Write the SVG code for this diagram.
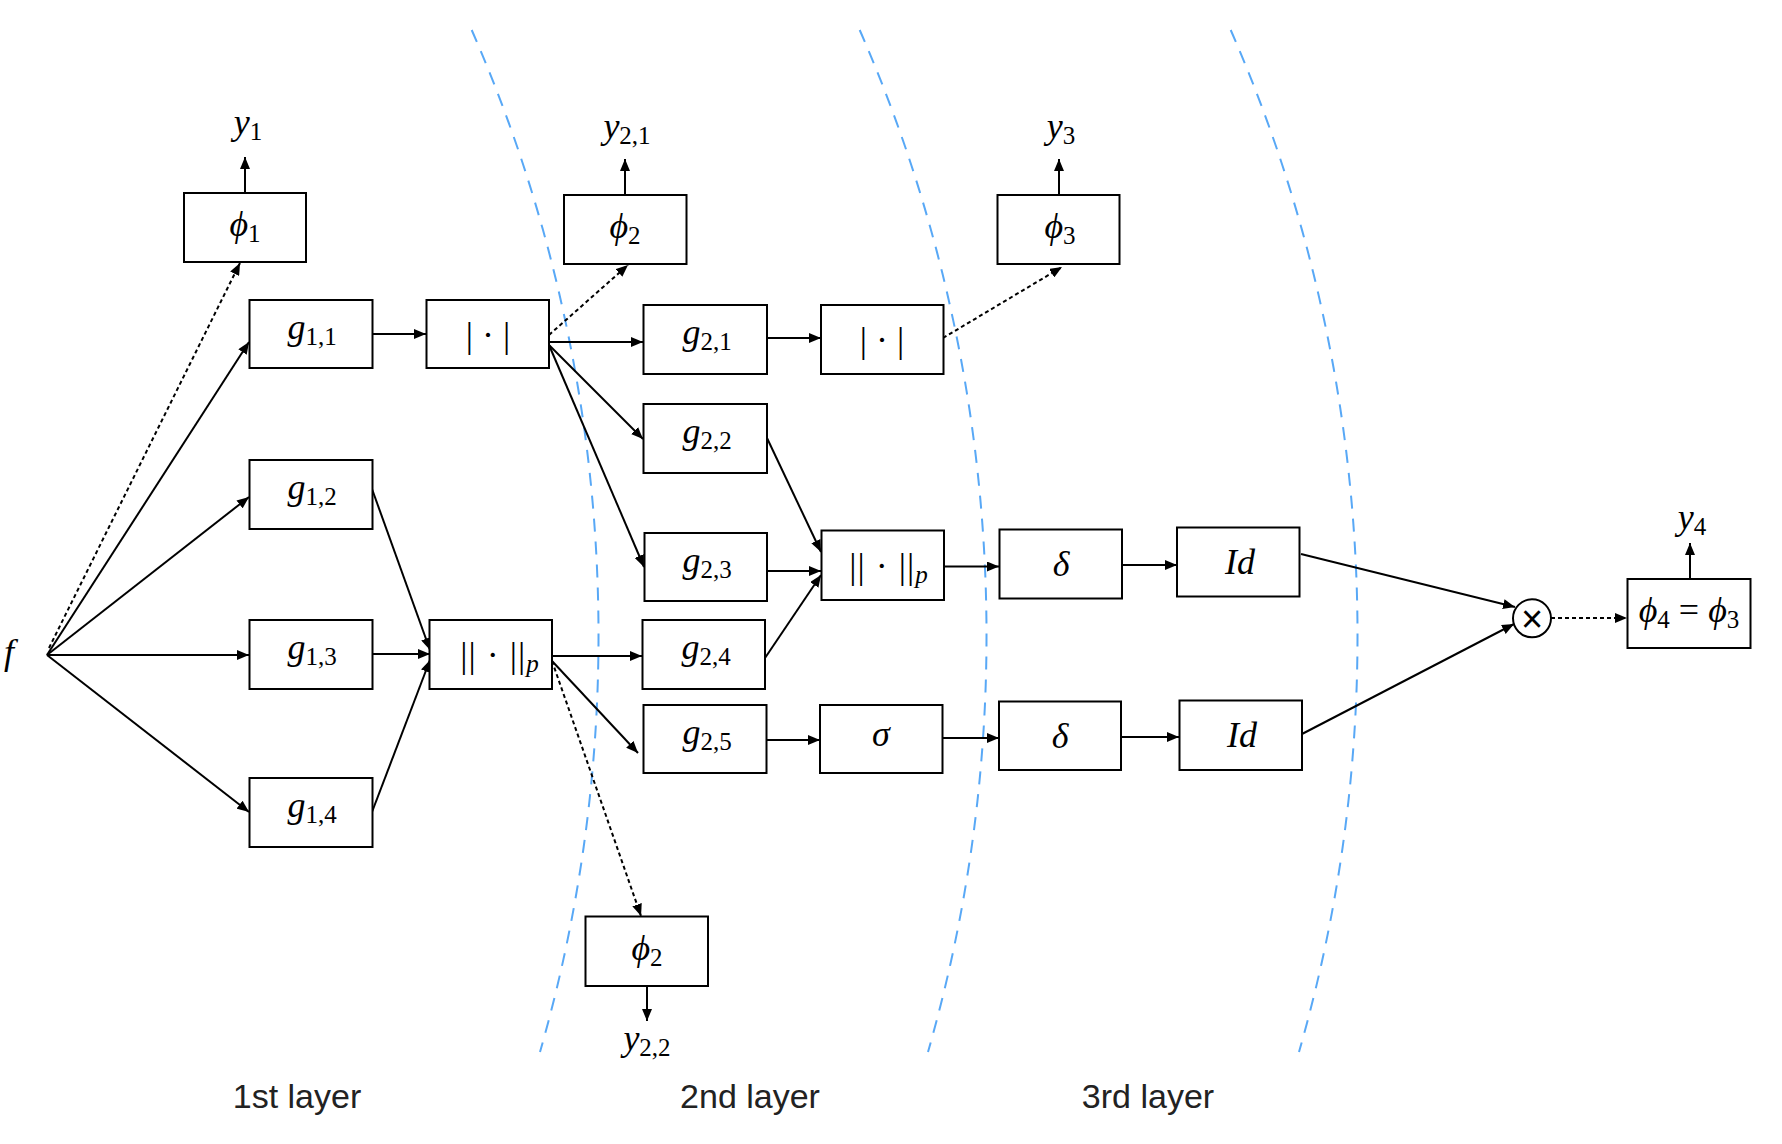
<svg xmlns="http://www.w3.org/2000/svg" width="1782" height="1144" viewBox="0 0 1782 1144">
<style>
.box{fill:#fff;stroke:#000;stroke-width:2}
.m{font-family:"Liberation Serif","DejaVu Serif",serif;font-size:36px;text-anchor:middle;fill:#000}
.i{font-style:italic}
.s{font-size:25px}
.e{fill:none;stroke:#000;stroke-width:2}
.d{fill:none;stroke:#000;stroke-width:2;stroke-dasharray:4 3}
.layer{fill:none;stroke:#58A8F6;stroke-width:2;stroke-dasharray:13 10}
.lbl{font-family:"Liberation Sans","Helvetica",sans-serif;font-size:34px;text-anchor:middle;fill:#222}
</style>
<defs>
<marker id="ah" markerWidth="12" markerHeight="10" refX="12" refY="5" orient="auto" markerUnits="userSpaceOnUse"><path d="M0,0 L12,5 L0,10 z" fill="#000"/></marker>
</defs>
<rect width="1782" height="1144" fill="#fff"/>
<g id="layers">
<path class="layer" d="M471.7,30 A1510,1510 0 0,1 540,1052"/>
<path class="layer" d="M859.7,30 A1510,1510 0 0,1 928,1052"/>
<path class="layer" d="M1230.7,30 A1510,1510 0 0,1 1299,1052"/>
</g>
<g id="connectors">
<path class="e" marker-end="url(#ah)" d="M47,655 L249,342"/>
<path class="e" marker-end="url(#ah)" d="M47,655 L249,497"/>
<path class="e" marker-end="url(#ah)" d="M47,655 L249,655"/>
<path class="e" marker-end="url(#ah)" d="M47,655 L249,812"/>
<path class="d" marker-end="url(#ah)" d="M49,648 L240,263"/>
<path class="e" marker-end="url(#ah)" d="M372,334 L426,334"/>
<path class="e" marker-end="url(#ah)" d="M372,489 L430,650"/>
<path class="e" marker-end="url(#ah)" d="M372,654 L430,654"/>
<path class="e" marker-end="url(#ah)" d="M372,812 L430,660"/>
<path class="d" marker-end="url(#ah)" d="M549,335 L628,265"/>
<path class="e" marker-end="url(#ah)" d="M549,342 L643,342"/>
<path class="e" marker-end="url(#ah)" d="M549,345 L643,439"/>
<path class="e" marker-end="url(#ah)" d="M549,345 L644,567"/>
<path class="e" marker-end="url(#ah)" d="M767,338 L821,338"/>
<path class="d" marker-end="url(#ah)" d="M943,338 L1062,267"/>
<path class="e" marker-end="url(#ah)" d="M767,438 L821,552"/>
<path class="e" marker-end="url(#ah)" d="M767,571 L821,571"/>
<path class="e" marker-end="url(#ah)" d="M765,658 L821,575"/>
<path class="e" marker-end="url(#ah)" d="M944,566.5 L999,566.5"/>
<path class="e" marker-end="url(#ah)" d="M1122,565 L1177,565"/>
<path class="e" marker-end="url(#ah)" d="M1301,554 L1515,607"/>
<path class="e" marker-end="url(#ah)" d="M552,656 L642,656"/>
<path class="e" marker-end="url(#ah)" d="M552,661 L638,753"/>
<path class="d" marker-end="url(#ah)" d="M552,661 L641,916"/>
<path class="e" marker-end="url(#ah)" d="M766,740 L820,740"/>
<path class="e" marker-end="url(#ah)" d="M942,738 L999,738"/>
<path class="e" marker-end="url(#ah)" d="M1121,737 L1179,737"/>
<path class="e" marker-end="url(#ah)" d="M1302,734 L1514,624"/>
<path class="d" marker-end="url(#ah)" d="M1551,618 L1627,618"/>
<path class="e" marker-end="url(#ah)" d="M245,193 L245,157"/>
<path class="e" marker-end="url(#ah)" d="M625,195 L625,159"/>
<path class="e" marker-end="url(#ah)" d="M1059,195 L1059,159"/>
<path class="e" marker-end="url(#ah)" d="M647,986 L647,1021"/>
<path class="e" marker-end="url(#ah)" d="M1690,579 L1690,543"/>
</g>
<g id="f"><text class="m i" x="9" y="664">f</text></g>
<g id="y1"><text class="m" x="248" y="134"><tspan class="i">y</tspan><tspan class="s" dy="6">1</tspan></text></g>
<g id="y21"><text class="m" x="627" y="138"><tspan class="i">y</tspan><tspan class="s" dy="6">2,1</tspan></text></g>
<g id="y3"><text class="m" x="1061" y="138"><tspan class="i">y</tspan><tspan class="s" dy="6">3</tspan></text></g>
<g id="y22"><text class="m" x="647" y="1050"><tspan class="i">y</tspan><tspan class="s" dy="6">2,2</tspan></text></g>
<g id="y4"><text class="m" x="1692" y="529"><tspan class="i">y</tspan><tspan class="s" dy="6">4</tspan></text></g>
<g id="phi1"><rect class="box" x="184" y="193" width="122" height="69"/><text class="m" x="245" y="236"><tspan class="i">ϕ</tspan><tspan class="s" dy="6">1</tspan></text></g>
<g id="g11"><rect class="box" x="249.5" y="300" width="123" height="68"/><text class="m" x="312" y="339"><tspan class="i">g</tspan><tspan class="s" dy="6">1,1</tspan></text></g>
<g id="abs1"><rect class="box" x="426.5" y="300" width="122.5" height="68"/><text class="m" x="488" y="347" font-size="39">| · |</text></g>
<g id="g12"><rect class="box" x="249.5" y="460" width="123" height="69"/><text class="m" x="312" y="499"><tspan class="i">g</tspan><tspan class="s" dy="6">1,2</tspan></text></g>
<g id="g13"><rect class="box" x="249.5" y="620" width="123" height="69"/><text class="m" x="312" y="659"><tspan class="i">g</tspan><tspan class="s" dy="6">1,3</tspan></text></g>
<g id="g14"><rect class="box" x="249.5" y="778" width="123" height="69"/><text class="m" x="312" y="817"><tspan class="i">g</tspan><tspan class="s" dy="6">1,4</tspan></text></g>
<g id="norm1"><rect class="box" x="429.5" y="620" width="122.5" height="69"/><text class="m" x="500" y="667" font-size="39" letter-spacing="1">|| · ||<tspan class="s i" dy="5">p</tspan></text></g>
<g id="phi2a"><rect class="box" x="564" y="195" width="122.5" height="69"/><text class="m" x="625" y="238"><tspan class="i">ϕ</tspan><tspan class="s" dy="6">2</tspan></text></g>
<g id="g21"><rect class="box" x="643.5" y="305" width="123.5" height="69"/><text class="m" x="707" y="344"><tspan class="i">g</tspan><tspan class="s" dy="6">2,1</tspan></text></g>
<g id="abs2"><rect class="box" x="821" y="305" width="122.5" height="69"/><text class="m" x="882" y="352" font-size="39">| · |</text></g>
<g id="phi3"><rect class="box" x="997.5" y="195" width="122" height="69"/><text class="m" x="1060" y="238"><tspan class="i">ϕ</tspan><tspan class="s" dy="6">3</tspan></text></g>
<g id="g22"><rect class="box" x="643.5" y="404" width="123.5" height="69"/><text class="m" x="707" y="443"><tspan class="i">g</tspan><tspan class="s" dy="6">2,2</tspan></text></g>
<g id="g23"><rect class="box" x="644.5" y="533" width="122.5" height="68"/><text class="m" x="707" y="572"><tspan class="i">g</tspan><tspan class="s" dy="6">2,3</tspan></text></g>
<g id="norm2"><rect class="box" x="821.5" y="530.5" width="122.5" height="69.5"/><text class="m" x="889" y="578" font-size="39" letter-spacing="1">|| · ||<tspan class="s i" dy="5">p</tspan></text></g>
<g id="delta1"><rect class="box" x="999.5" y="529.5" width="122.5" height="69"/><text class="m i" x="1061" y="576">δ</text></g>
<g id="id1"><rect class="box" x="1177" y="527.5" width="122.5" height="69"/><text class="m i" x="1240" y="574">Id</text></g>
<g id="g24"><rect class="box" x="642.5" y="620" width="122.5" height="69"/><text class="m" x="706" y="659"><tspan class="i">g</tspan><tspan class="s" dy="6">2,4</tspan></text></g>
<g id="g25"><rect class="box" x="643.5" y="705" width="123" height="68"/><text class="m" x="707" y="744"><tspan class="i">g</tspan><tspan class="s" dy="6">2,5</tspan></text></g>
<g id="sigma"><rect class="box" x="820" y="705" width="122.5" height="68"/><text class="m i" x="881" y="746">σ</text></g>
<g id="delta2"><rect class="box" x="999" y="701.5" width="122" height="68.5"/><text class="m i" x="1060" y="748">δ</text></g>
<g id="id2"><rect class="box" x="1179.5" y="700.5" width="122.5" height="69.5"/><text class="m i" x="1242" y="747">Id</text></g>
<g id="phi2b"><rect class="box" x="585.5" y="916.5" width="122.5" height="69.5"/><text class="m" x="647" y="960"><tspan class="i">ϕ</tspan><tspan class="s" dy="6">2</tspan></text></g>
<g id="times"><circle cx="1532" cy="618.3" r="19" fill="#fff" stroke="#000" stroke-width="2"/><text x="1532" y="632" font-family="Liberation Sans, sans-serif" font-size="38" text-anchor="middle">×</text></g>
<g id="phi4"><rect class="box" x="1627.5" y="579" width="123" height="69"/><text class="m" x="1689" y="622"><tspan class="i">ϕ</tspan><tspan class="s" dy="6">4</tspan><tspan dy="-6"> = </tspan><tspan class="i">ϕ</tspan><tspan class="s" dy="6">3</tspan></text></g>
<g id="labels">
<text class="lbl" x="297" y="1108">1st layer</text>
<text class="lbl" x="750" y="1108">2nd layer</text>
<text class="lbl" x="1148" y="1108">3rd layer</text>
</g>
</svg>
